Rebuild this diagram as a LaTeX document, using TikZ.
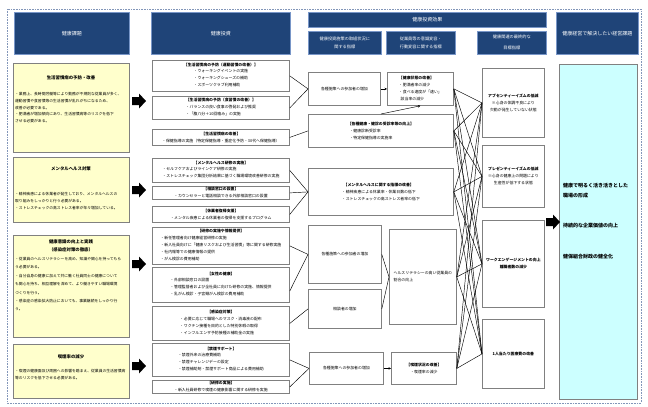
\documentclass[tikz,border=0pt]{standalone}
\usepackage{fontspec}
\setmainfont{Noto Sans CJK JP}
\usetikzlibrary{arrows.meta}
\definecolor{hdr}{RGB}{31,68,120}
\definecolor{hdrline}{RGB}{120,150,200}
\definecolor{ylw}{RGB}{255,255,204}
\definecolor{cyn}{RGB}{204,255,255}
\definecolor{bdr}{RGB}{128,128,128}
\definecolor{dotc}{RGB}{130,150,185}
\begin{document}
\begin{tikzpicture}[x=1pt,y=-1pt,
  hbox/.style={draw=hdrline, line width=0.6pt, fill=hdr, text=white, anchor=north west, inner sep=1pt, align=center, font=\fontsize{5}{6}\selectfont},
  shbox/.style={hbox, font=\fontsize{4.2}{8}\selectfont},
  ybox/.style={draw=bdr, line width=0.8pt, fill=ylw, anchor=north west, inner sep=0pt},
  wbox/.style={draw=bdr, line width=0.8pt, fill=white, anchor=north west, inner sep=1pt, align=center, font=\fontsize{3.9}{7}\selectfont},
  cbox/.style={draw=bdr, line width=0.8pt, fill=cyn, anchor=north west, inner sep=0pt},
  ytitle/.style={anchor=center, inner sep=0pt, align=center, font=\fontsize{4.4}{8}\selectfont\bfseries},
  ybody/.style={anchor=north west, inner sep=0pt, align=left, font=\fontsize{3.8}{6.8}\selectfont},
  ctext/.style={anchor=west, inner sep=0pt, align=left, font=\fontsize{5}{10}\selectfont\bfseries},
  conn/.style={line width=0.45pt, black},
  arr/.style={conn, -{Stealth[length=2.5pt,width=2.5pt]}},
  barrow/.pic={\fill[black] (0,-4)--(7,-4)--(7,-7.5)--(14,0)--(7,7.5)--(7,4)--(0,4)--cycle;}
]
\useasboundingbox (0,0) rectangle (648,407);
\draw[dotc, line width=0.6pt, dash pattern=on 0.8pt off 0.8pt] (7,9) rectangle (641,403);

% headers
\node[hbox, minimum width=115pt, minimum height=42pt] (h1) at (14,12) {健康課題};
\node[hbox, minimum width=139pt, minimum height=42pt] (h2) at (151,12) {健康投資};
\node[hbox, minimum width=238pt, minimum height=15pt] (h3) at (308,12) {健康投資効果};
\node[shbox, minimum width=73pt, minimum height=23pt] (h31) at (308,31) {健康投資施策の取組状況に\\関する指標};
\node[shbox, minimum width=69pt, minimum height=23pt] (h32) at (386,31) {従業員等の意識変容・\\行動変容に関する指標};
\node[shbox, minimum width=69pt, minimum height=23pt, font=\fontsize{4.2}{11}\selectfont] (h33) at (477,31) {健康関連の最終的な\\目標指標};
\node[hbox, minimum width=82pt, minimum height=42pt] (h4) at (556,12) {健康経営で解決したい経営課題};

% left column
\node[ybox, minimum width=116pt, minimum height=89pt] (Y1) at (13,63) {};
\node[ytitle] (Y1t) at (71,78) {生活習慣病の予防・改善};
\node[ybody] (Y1b) at (15,92) {・業務上、長時間労働等により勤務が不規則な従業員が多く、\\運動習慣や食習慣等の生活習慣が乱れがちになるため、\\改善が必要である。\\・肥満者が増加傾向にあり、生活習慣病等のリスクを低下\\させる必要がある。};

\node[ybox, minimum width=116pt, minimum height=65pt] (Y2) at (13,157) {};
\node[ytitle] (Y2t) at (71,169) {メンタルヘルス対策};
\node[ybody] (Y2b) at (15,192) {・精神疾患による休業者が発生しており、メンタルヘルスの\\取り組みをしっかりと行う必要がある。\\・ストレスチェックの高ストレス者率が年々増加している。};

\node[ybox, minimum width=116pt, minimum height=102pt] (Y3) at (13,235) {};
\node[ytitle] (Y3t) at (71,246) {健康意識の向上と実践\\（感染症対策の徹底）};
\node[ybody, font=\fontsize{3.8}{8.4}\selectfont] (Y3b) at (15,257) {・従業員のヘルスリテラシーを高め、知識や関心を持ってもら\\う必要がある。\\・自分自身の健康に加えて共に働く社員同士の健康について\\も関心を持ち、相互理解を深めて、より働きやすい職場環境\\づくりを行う。\\・感染症の感染拡大防止においても、事業継続をしっかり行\\う。};

\node[ybox, minimum width=116pt, minimum height=54pt] (Y4) at (13,344) {};
\node[ytitle] (Y4t) at (71,357) {喫煙率の減少};
\node[ybody] (Y4b) at (15,369) {・喫煙の健康面及び周囲への影響を踏まえ、従業員の生活習慣病\\等のリスクを低下させる必要がある。};

\pic at (132,101) {barrow};
\pic at (132,190) {barrow};
\pic at (132,264) {barrow};
\pic at (132,366) {barrow};

% health investment column
\node[wbox, minimum width=137pt, minimum height=31pt] (A) at (152,60) {\textbf{【生活習慣病の予防（運動習慣の改善）】}\\\begin{tabular}{@{}l@{}}・ウォーキングイベントの実施\\・ウォーキングシューズの補助\\・スポーツクラブ利用補助\end{tabular}};
\node[wbox, minimum width=137pt, minimum height=23pt] (B) at (152,96) {\textbf{【生活習慣病の予防（食習慣の改善）】}\\\begin{tabular}{@{}l@{}}・バランスの良い食事の啓発および推奨\\・「腹八分＋10回噛み」の実施\end{tabular}};
\node[wbox, minimum width=137pt, minimum height=16pt] (C) at (152,129) {\textbf{【生活習慣病の改善】}\\・保健指導の実施（特定保健指導・重症化予防・30代へ保健指導）};
\node[wbox, minimum width=137pt, minimum height=24pt] (D) at (152,158) {\textbf{【メンタルヘルス研修の実施】}\\\begin{tabular}{@{}l@{}}・セルフケアおよびラインケア研修の実施\\・ストレスチェック集団分析結果に基づく職場環境改善研修の実施\end{tabular}};
\node[wbox, minimum width=137pt, minimum height=13pt] (E) at (152,186) {\textbf{【相談窓口の設置】}\\・カウンセラーと電話相談できる外部相談窓口の設置};
\node[wbox, minimum width=137pt, minimum height=16pt] (F) at (152,206) {\textbf{【休業者復帰支援】}\\・メンタル疾患による休業者の復帰を支援するプログラム};
\node[wbox, minimum width=137pt, minimum height=37pt] (G) at (152,227) {\textbf{【研修の実施や情報提供】}\\\begin{tabular}{@{}l@{}}・新任管理者向け健康経営研修の実施\\・新入社員向けに「健康リスクおよび生活習慣」等に関する研修実施\\・社内報等での健康情報の提供\\・がん検診の費用補助\end{tabular}};
\node[wbox, minimum width=137pt, minimum height=35pt] (H) at (152,267) {\textbf{【女性の健康】}\\\begin{tabular}{@{}l@{}}・外部相談窓口の設置\\・管理監督者および全社員に向けた研修の実施、情報提供\\・乳がん検診・子宮頸がん検診の費用補助\end{tabular}};
\node[wbox, minimum width=137pt, minimum height=34pt] (I) at (152,306) {\textbf{【感染症対策】}\\\begin{tabular}{@{}l@{}}・必要に応じて職場へのマスク・消毒液の配布\\・ワクチン接種を目的とした特別休暇の取得\\・インフルエンザ予防接種の補助金の実施\end{tabular}};
\node[wbox, minimum width=137pt, minimum height=33pt] (J) at (152,343) {\textbf{【禁煙サポート】}\\\begin{tabular}{@{}l@{}}・禁煙外来の治療費補助\\・禁煙チャレンジデーの設定\\・禁煙補助剤・禁煙サポート商品による費用補助\end{tabular}};
\node[wbox, minimum width=137pt, minimum height=13pt] (K) at (152,380) {\textbf{【研修の実施】}\\・新入社員研修で喫煙の健康影響に関する研修を実施};

% indicator columns
\node[wbox, minimum width=72pt, minimum height=33pt] (P1) at (308,72) {各種施策への参加者の増加};
\node[wbox, minimum width=66pt, minimum height=33pt] (Q1) at (387,72) {\begin{tabular}{@{}l@{}}\textbf{【健康状態の改善】}\\・肥満者率の減少\\・食べる速度が「速い」\\\ \ 該当率の減少\end{tabular}};
\node[wbox, minimum width=145pt, minimum height=33pt] (R) at (308,114) {\begin{tabular}{@{}l@{}}\textbf{【各種健康・健診の受診率等の向上】}\\\ \ ・健康診断受診率\\\ \ ・特定保健指導の実施率\end{tabular}};
\node[wbox, minimum width=145pt, minimum height=47pt] (S) at (308,168) {\begin{tabular}{@{}l@{}}\ \ \textbf{【メンタルヘルスに関する指標の改善】}\\・精神疾患による休業率・休業日数の低下\\・ストレスチェックの高ストレス者率の低下\end{tabular}};
\node[wbox, minimum width=73pt, minimum height=58pt] (P2) at (308,225) {各種施策への参加者の増加};
\node[wbox, minimum width=73pt, minimum height=39pt] (P3) at (308,289) {相談者の増加};
\node[wbox, minimum width=67pt, minimum height=95pt, align=left] (Q2) at (389,229) {ヘルスリテラシーの高い従業員の\\割合の向上};
\node[wbox, minimum width=74pt, minimum height=32pt] (P4) at (309,352) {各種施策への参加者の増加};
\node[wbox, minimum width=65pt, minimum height=32pt] (Q3) at (391,352) {\textbf{【喫煙状況の改善】}\\・喫煙率の減少};

% final target indicators
\node[wbox, minimum width=62pt, minimum height=69pt] (T1) at (482,68) {\textbf{アブセンティーイズムの低減}\\※心身の体調不良により\\欠勤が発生していない状態};
\node[wbox, minimum width=62pt, minimum height=62pt] (T2) at (482,145) {\textbf{プレゼンティーイズムの低減}\\※心身の健康上の問題により\\生産性が低下する状態};
\node[wbox, minimum width=62pt, minimum height=87pt] (T3) at (482,220) {\textbf{ワークエンゲージメントの向上}\\\textbf{離職者数の減少}};
\node[wbox, minimum width=62pt, minimum height=69pt] (T4) at (482,319) {\textbf{1人当たり医療費の改善}};

% management issues
\node[cbox, minimum width=78pt, minimum height=335pt] (Z) at (559,64) {};
\node[ctext] (Z1) at (563,191) {健康で明るく活き活きとした\\職場の形成};
\node[ctext] (Z2) at (563,226) {持続的な企業価値の向上};
\node[ctext] (Z3) at (563,257) {健保組合財政の健全化};
\pic at (546,222) {barrow};

% connectors investment -> indicators
\draw[conn] (A.east) -- (P1.west);
\draw[conn] (B.east) -- (P1.west);
\draw[conn] (C.east) -- (R.west);
\draw[conn] (D.east) -- (S.west);
\draw[conn] (E.east) -- (S.west);
\draw[conn] (F.east) -- (S.west);
\draw[conn] (G.east) -- (P2.west);
\draw[conn] ([yshift=-6pt]H.east) -- (P2.west);
\draw[conn] (I.east) -- (P3.west);
\draw[conn] (J.east) -- (P4.west);
\draw[conn] (K.east) -- (P4.west);

\draw[arr] (P1.east) -- (Q1.west);
\draw[arr] (P4.east) -- (Q3.west);
\draw[arr] (R.north) -- (Q1.south);
\draw[conn] (P2.east) -- (Q2.west);
\draw[conn] (P3.east) -- (Q2.west);

\foreach \s in {Q1,R,S,Q2,Q3}
  \foreach \t in {T1,T2,T3,T4}
    \draw[conn] (\s.east) -- (\t.west);
\end{tikzpicture}
\end{document}
